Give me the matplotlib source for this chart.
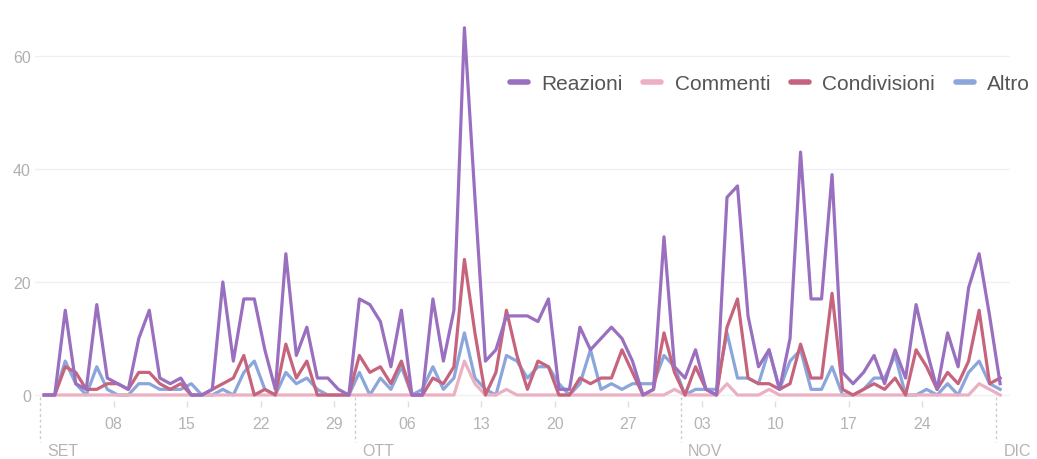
import numpy as np
import matplotlib.pyplot as plt

plt.rcParams['font.family'] = ['Liberation Sans', 'DejaVu Sans']

# daily interactions, 1 Sep -> 1 Dec
reazioni = [0, 0, 15, 2, 1, 16, 3, 2, 1, 10, 15, 3, 2, 3, 0, 0, 1, 20, 6, 17,
            17, 8, 1, 25, 7, 12, 3, 3, 1, 0, 17, 16, 13, 5, 15, 0, 0, 17, 6, 15,
            65, 35, 6, 8, 14, 14, 14, 13, 17, 1, 1, 12, 8, 10, 12, 10, 6, 0, 1, 28,
            5, 3, 8, 1, 0, 35, 37, 14, 5, 8, 1, 10, 43, 17, 17, 39, 4, 2, 4, 7,
            2, 8, 3, 16, 8, 1, 11, 5, 19, 25, 14, 2]
commenti = [0] * 40 + [6, 2, 0, 0, 1] + [0] * 15 + [1, 0, 0, 0, 0, 2, 0, 0, 0, 1] \
    + [0] * 19 + [2, 1, 0]
condivisioni = [0, 0, 5, 4, 1, 1, 2, 2, 1, 4, 4, 2, 1, 2, 0, 0, 1, 2, 3, 7,
                0, 1, 0, 9, 3, 6, 0, 0, 0, 0, 7, 4, 5, 2, 6, 0, 0, 3, 2, 5,
                24, 11, 0, 4, 15, 7, 1, 6, 5, 0, 0, 3, 2, 3, 3, 8, 4, 0, 1, 11,
                4, 0, 5, 1, 0, 12, 17, 3, 2, 2, 1, 2, 9, 3, 3, 18, 1, 0, 1, 2,
                1, 3, 0, 8, 5, 1, 4, 2, 6, 15, 2, 3]
altro = [0, 0, 6, 2, 0, 5, 1, 0, 0, 2, 2, 1, 1, 1, 2, 0, 0, 1, 0, 4,
         6, 1, 0, 4, 2, 3, 1, 0, 0, 0, 4, 0, 3, 1, 5, 0, 1, 5, 1, 3,
         11, 3, 1, 0, 7, 6, 3, 5, 5, 2, 0, 2, 8, 1, 2, 1, 2, 2, 2, 7,
         5, 0, 1, 1, 1, 11, 3, 3, 2, 8, 1, 6, 8, 1, 1, 5, 0, 0, 1, 3,
         3, 7, 0, 0, 1, 0, 2, 0, 4, 6, 2, 1]

day_ticks = [7, 14, 21, 28, 35, 42, 49, 56, 63, 70, 77, 84]
day_labels = ['08', '15', '22', '29', '06', '13', '20', '27', '03', '10', '17', '24']
month_starts = [0, 30, 61, 91]
month_labels = ['SET', 'OTT', 'NOV', 'DIC']

# points sit inside their day, ticks on day boundaries
x = np.arange(len(reazioni)) + 0.4

fig = plt.figure(figsize=(10.37, 4.6), dpi=100)
ax = fig.add_axes([35 / 1037, 58.35 / 460, 975 / 1037, 401.15 / 460])

ax.plot(x, altro, color='#8aa6dc', lw=2.3, label='Altro', zorder=3)
ax.plot(x, condivisioni, color='#c6647e', lw=2.3, label='Condivisioni', zorder=4)
ax.plot(x, commenti, color='#ebb0c2', lw=2.3, label='Commenti', zorder=3.5)
ax.plot(x, reazioni, color='#9a6fbf', lw=2.3, label='Reazioni', zorder=5)

ax.set_xlim(-0.48, 92.34)
ax.set_ylim(-1, 70)
ax.set_yticks([0, 20, 40, 60])
ax.grid(axis='y', color='#f0f0f0', lw=1)
ax.set_axisbelow(True)
for s in ax.spines.values():
    s.set_visible(False)

ax.tick_params(axis='y', length=0, pad=3, labelsize=11.5, labelcolor='#b0b0b0')
ax.set_xticks(day_ticks)
ax.set_xticklabels(day_labels)
ax.tick_params(axis='x', length=4, width=1, color='#dddddd', pad=7,
               labelsize=11.5, labelcolor='#b4b4b4')

# month separators and names under the day labels
tr = ax.get_xaxis_transform()
for m, lab in zip(month_starts, month_labels):
    ax.plot([m, m], [0.009, -0.103], transform=tr, color='#cccccc', lw=1,
            ls=(0, (2, 2)), clip_on=False)
    ax.text(m + 0.7, -0.1255, lab, transform=tr, ha='left', va='center',
            fontsize=11.5, color='#b4b4b4')

handles, labels = ax.get_legend_handles_labels()
order = [3, 2, 1, 0]
leg = ax.legend([handles[i] for i in order], [labels[i] for i in order],
                ncol=4, frameon=False, fontsize=15, loc='center right',
                bbox_to_anchor=(1030 / 1037, 1 - 85 / 460),
                bbox_transform=fig.transFigure, borderpad=0, borderaxespad=0,
                handlelength=0.85, handletextpad=0.65, columnspacing=1.0)
for h in leg.get_lines():
    h.set_linewidth(4)
    h.set_solid_capstyle('round')
for t in leg.get_texts():
    t.set_color('#555555')

fig.savefig('out.png', dpi=100)
